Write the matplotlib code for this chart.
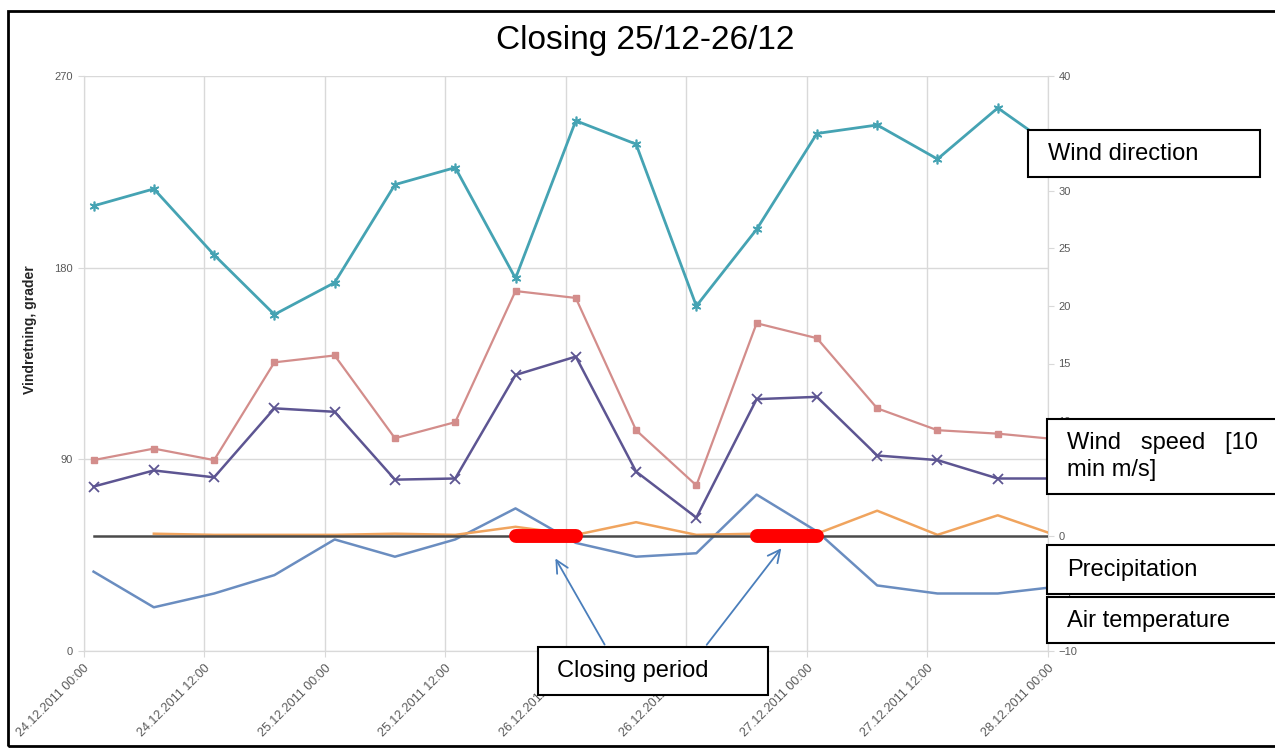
import numpy as np
import pandas as pd
import matplotlib
matplotlib.use("Agg")
import matplotlib.pyplot as plt
import matplotlib.dates as mdates
from matplotlib.patches import Rectangle, FancyArrowPatch

plt.rcParams['font.family'] = ['Liberation Sans', 'DejaVu Sans']

# observation times (every 6 hours)
time_labels = ["24.12.2011 01:00", "24.12.2011 07:00", "24.12.2011 13:00", "24.12.2011 19:00",
               "25.12.2011 01:00", "25.12.2011 07:00", "25.12.2011 13:00", "25.12.2011 19:00",
               "26.12.2011 01:00", "26.12.2011 07:00", "26.12.2011 13:00", "26.12.2011 19:00",
               "27.12.2011 01:00", "27.12.2011 07:00", "27.12.2011 13:00", "27.12.2011 19:00",
               "28.12.2011 01:00"]

# left axis: wind direction [degrees]
wind_dir = [209, 217, 186, 158, 173, 219, 227, 175, 249, 238, 162, 198, 243, 247, 231, 255, 235]

# right axis
wind_max = [6.6, 7.6, 6.6, 15.1, 15.7, 8.5, 9.9, 21.3, 20.7, 9.2, 4.4, 18.5, 17.2, 11.1, 9.2, 8.9, 8.4]
wind_mean = [4.3, 5.7, 5.1, 11.1, 10.8, 4.9, 5.0, 14.0, 15.6, 5.6, 1.6, 11.9, 12.1, 7.0, 6.6, 5.0, 5.0]
air_temp = [-3.1, -6.2, -5.0, -3.4, -0.3, -1.8, -0.3, 2.4, -0.6, -1.8, -1.5, 3.6, 0.4, -4.3, -5.0, -5.0, -4.4]
precip = [np.nan, 0.2, 0.1, 0.1, 0.1, 0.2, 0.1, 0.8, 0.1, 1.2, 0.1, 0.2, 0.2, 2.2, 0.1, 1.8, 0.0]
zero_line = [0, 0, 0, 0, 0, 0, 0, 0, 0, 0, 0, 0, 0, 0, 0, 0, 0]
closing = [np.nan, np.nan, np.nan, np.nan, np.nan, np.nan, np.nan, 0, 0,
           np.nan, np.nan, 0, 0, np.nan, np.nan, np.nan, np.nan]

times = pd.to_datetime(time_labels, format="%d.%m.%Y %H:%M")

W, H = 1275, 751
def fx(x):
    return x / W
def fy(y):
    return 1 - y / H

fig = plt.figure(figsize=(12.75, 7.51), dpi=100)
ax = fig.add_axes([fx(83.5), fy(651), (1048 - 83.5) / W, (651 - 76) / H])
ax2 = ax.twinx()

grid_c = "#d9d9d9"
tick_c = "#595959"

# wind direction
ax.plot(times, wind_dir, color="#45a3b3", lw=2, marker=(6, 2, 0), ms=7, mew=1.2, zorder=3)
ax.set_ylim(0, 270)
ax.set_yticks([0, 90, 180, 270])
ax.set_xlim(pd.Timestamp("2011-12-24 00:00"), pd.Timestamp("2011-12-28 00:00"))
ax.xaxis.set_major_locator(mdates.HourLocator(byhour=[0, 12]))
ax.xaxis.set_major_formatter(mdates.DateFormatter("%d.%m.%Y %H:%M"))
ax.grid(True, color=grid_c, lw=1)
ax.set_axisbelow(True)
for lab in ax.get_xticklabels():
    lab.set_rotation(45)
    lab.set_ha("right")
    lab.set_rotation_mode("anchor")
ax.tick_params(axis="x", colors=grid_c, labelcolor=tick_c, labelsize=9, length=4, pad=4)
ax.tick_params(axis="y", colors=grid_c, labelcolor=tick_c, labelsize=8, length=4)

# right axis series
ax2.plot(times, wind_max, color="#d38d8b", lw=1.6, marker="s", ms=4, zorder=3)
ax2.plot(times, wind_mean, color="#5d5592", lw=1.8, marker="x", ms=7, mew=1.3, zorder=3)
ax2.plot(times, air_temp, color="#6a8dc0", lw=1.8, zorder=3)
ax2.plot(times, precip, color="#f0a45e", lw=1.8, zorder=3)
ax2.plot(times, zero_line, color="#4a4a4a", lw=1.8, zorder=4)
ax2.plot(times, closing, color="#ff0000", lw=10, solid_capstyle="round", zorder=5)
ax2.set_ylim(-10, 40)
ax2.set_yticks(np.arange(-10, 41, 5))
ax2.tick_params(axis="y", colors=grid_c, labelcolor=tick_c, labelsize=8, length=4)

for a in (ax, ax2):
    a.spines["top"].set_visible(False)
    for s in ("left", "right", "bottom"):
        a.spines[s].set_color(grid_c)

# axis label and title
fig.text(fx(30), fy(330), "Vindretning, grader", rotation=90, ha="center", va="center",
         fontsize=10, fontweight="bold", color="#262626")
fig.text(fx(645), fy(41), "Closing 25/12-26/12", ha="center", va="center", fontsize=24)

# text boxes
def box(x0, y0, x1, y1):
    fig.patches.append(Rectangle((fx(x0), fy(y1)), fx(x1) - fx(x0), fy(y0) - fy(y1),
                                 transform=fig.transFigure, facecolor="white",
                                 edgecolor="black", lw=1.5, zorder=10))

box(1028, 130, 1260, 177)
fig.text(fx(1048), fy(154), "Wind direction", fontsize=17, va="center", zorder=11)
box(1047, 419, 1290, 494)
fig.text(fx(1067), fy(443), "Wind   speed   [10", fontsize=17, va="center", zorder=11)
fig.text(fx(1067), fy(470), "min m/s]", fontsize=17, va="center", zorder=11)
box(1047, 545, 1290, 594)
fig.text(fx(1067), fy(570), "Precipitation", fontsize=17, va="center", zorder=11)
box(1047, 597, 1290, 643)
fig.text(fx(1067), fy(621), "Air temperature", fontsize=17, va="center", zorder=11)
box(538, 647, 768, 695)
fig.text(fx(557), fy(671), "Closing period", fontsize=17, va="center", zorder=11)

# arrows to closing periods
for (x0, y0), (x1, y1) in [((606, 647), (554, 556)), ((705, 647), (783, 546))]:
    fig.patches.append(FancyArrowPatch((fx(x0), fy(y0)), (fx(x1), fy(y1)),
                                       transform=fig.transFigure, arrowstyle="->",
                                       mutation_scale=22, color="#4a7ebb", lw=1.3, zorder=9))

# outer frame
fig.patches.append(Rectangle((fx(8), fy(746)), fx(1300) - fx(8), fy(11) - fy(746),
                             transform=fig.transFigure, fill=False, edgecolor="black",
                             lw=2, zorder=12))

fig.savefig("out.png", dpi=100)
